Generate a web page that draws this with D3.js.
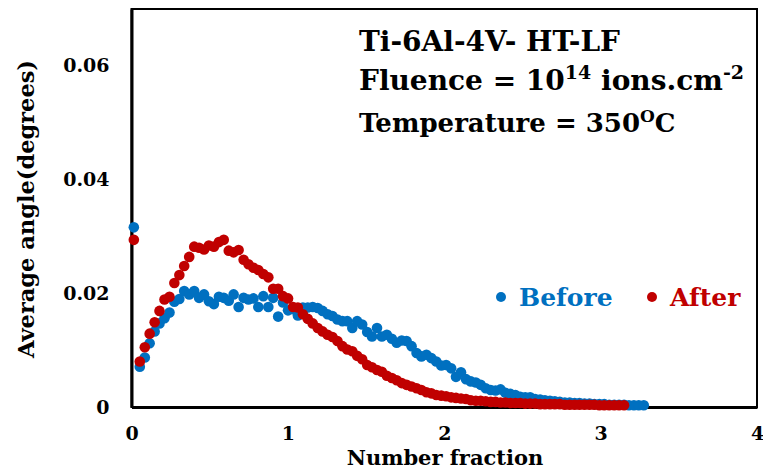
<!DOCTYPE html>
<html>
<head>
<meta charset="utf-8">
<script src="https://cdn.jsdelivr.net/npm/d3@7"></script>
<style>
  body { margin: 0; background: #fff; }
  text { font-family: "DejaVu Serif", serif; font-weight: bold; }
</style>
</head>
<body>
<svg width="763" height="469"></svg>
<script>
// x positions (number fraction), shared by both series
var xValues = [0.015,
  0.053, 0.085, 0.116, 0.148, 0.179, 0.211, 0.243, 0.274, 0.306, 0.337,
  0.369, 0.401, 0.432, 0.464, 0.495, 0.527, 0.559, 0.590, 0.622, 0.653,
  0.685, 0.717, 0.748, 0.780, 0.811, 0.843, 0.875, 0.906, 0.938, 0.969,
  1.001, 1.033, 1.064, 1.096, 1.127, 1.159, 1.191, 1.222, 1.254, 1.285,
  1.317, 1.349, 1.380, 1.412, 1.443, 1.475, 1.507, 1.538, 1.570, 1.601,
  1.633, 1.665, 1.696, 1.728, 1.759, 1.791, 1.823, 1.854, 1.886, 1.917,
  1.949, 1.981, 2.012, 2.044, 2.075, 2.107, 2.139, 2.170, 2.202, 2.233,
  2.265, 2.297, 2.328, 2.360, 2.391, 2.423, 2.455, 2.486, 2.518, 2.549,
  2.581, 2.613, 2.644, 2.676, 2.707, 2.739, 2.771, 2.802, 2.834, 2.865,
  2.897, 2.929, 2.960, 2.992, 3.023, 3.055, 3.087, 3.118, 3.150, 3.181,
  3.213, 3.244, 3.276];

var beforeValues = [0.0316,
  0.0071, 0.0087, 0.0112, 0.0133, 0.0147, 0.0156, 0.0166, 0.0185, 0.0190, 0.0204,
  0.0198, 0.0204, 0.0192, 0.0198, 0.0186, 0.0181, 0.0194, 0.0192, 0.0187, 0.0198,
  0.0176, 0.0192, 0.0189, 0.0191, 0.0176, 0.0195, 0.0176, 0.0192, 0.0159, 0.0184,
  0.0170, 0.0172, 0.0161, 0.0175, 0.0175, 0.0176, 0.0174, 0.0169, 0.0163, 0.0160,
  0.0154, 0.0151, 0.0151, 0.0139, 0.0151, 0.0145, 0.0132, 0.0124, 0.0139, 0.0124,
  0.0127, 0.0120, 0.0113, 0.0117, 0.0116, 0.0107, 0.0095, 0.0089, 0.0092, 0.0086,
  0.0080, 0.0073, 0.0074, 0.0068, 0.0053, 0.0061, 0.0049, 0.0045, 0.0043, 0.0039,
  0.0033, 0.0030, 0.0029, 0.0031, 0.0025, 0.0023, 0.0021, 0.0018, 0.0017, 0.0017,
  0.0014, 0.0013, 0.0012, 0.0011, 0.0010, 0.0009, 0.0008, 0.0008, 0.0007, 0.0007,
  0.0006, 0.0006, 0.0005, 0.0005, 0.0005, 0.0004, 0.0004, 0.0004, 0.0004, 0.0003,
  0.0003, 0.0003, 0.0003];

var afterValues = [0.0294,
  0.0080, 0.0105, 0.0129, 0.0149, 0.0169, 0.0189, 0.0194, 0.0218, 0.0232, 0.0248,
  0.0264, 0.0282, 0.0280, 0.0277, 0.0284, 0.0282, 0.0290, 0.0294, 0.0275, 0.0272,
  0.0276, 0.0259, 0.0251, 0.0245, 0.0241, 0.0234, 0.0228, 0.0208, 0.0208, 0.0195,
  0.0191, 0.0176, 0.0175, 0.0163, 0.0155, 0.0147, 0.0139, 0.0133, 0.0127, 0.0123,
  0.0116, 0.0107, 0.0101, 0.0098, 0.0090, 0.0084, 0.0074, 0.0070, 0.0065, 0.0062,
  0.0055, 0.0051, 0.0047, 0.0042, 0.0039, 0.0036, 0.0033, 0.0030, 0.0026, 0.0024,
  0.0021, 0.0020, 0.0019, 0.0017, 0.0016, 0.0015, 0.0014, 0.0012, 0.0011, 0.0011,
  0.0010, 0.0009, 0.0009, 0.0008, 0.0008, 0.0007, 0.0007, 0.0007, 0.0006, 0.0006,
  0.0006, 0.0005, 0.0005, 0.0005, 0.0005, 0.0005, 0.0004, 0.0004, 0.0004, 0.0004,
  0.0004, 0.0004, 0.0004, 0.0003, 0.0003, 0.0003, 0.0003, 0.0003, 0.0003];

var xTicks = [0, 1, 2, 3, 4];
var yTicks = [0, 0.02, 0.04, 0.06];
var yTickLabels = ["0", "0.02", "0.04", "0.06"];

var seriesNames = ["Before", "After"];
var seriesColors = ["#0070C0", "#C00000"];

var svg = d3.select("svg");

var margins = { top: 9, left: 131.5, right: 6, bottom: 62 };
var width = 763 - margins.left - margins.right;
var height = 469 - margins.top - margins.bottom;

var xScale = d3.scaleLinear().domain([0, 4]).range([0, width]);
var yScale = d3.scaleLinear().domain([0, 0.07]).range([height, 0]);

var plot = svg.append("g")
  .attr("transform", "translate(" + margins.left + "," + margins.top + ")");

// frame
plot.append("rect")
  .attr("x", 0).attr("y", 0)
  .attr("width", width).attr("height", height)
  .attr("fill", "none").attr("stroke", "#000").attr("stroke-width", 2);

// axes
var xAxis = plot.append("g")
  .attr("transform", "translate(0," + height + ")")
  .call(d3.axisBottom(xScale).tickValues(xTicks).tickSize(0).tickPadding(20)
    .tickFormat(d3.format("d")));
var yAxis = plot.append("g")
  .call(d3.axisLeft(yScale).tickValues(yTicks).tickSize(0).tickPadding(22)
    .tickFormat(function(d, i) { return yTickLabels[i]; }));

[xAxis, yAxis].forEach(function(a) {
  a.select(".domain").attr("stroke", "#000").attr("stroke-width", 3);
  a.selectAll("text")
    .attr("fill", "#000")
    .style("font-family", "'DejaVu Serif', serif")
    .style("font-weight", "bold")
    .style("font-size", "19px");
});

// points, "After" drawn on top
var series = [beforeValues, afterValues];
series.forEach(function(vals, s) {
  plot.append("g").selectAll("circle")
    .data(vals)
    .enter()
    .append("circle")
    .attr("cx", function(d, i) { return xScale(xValues[i]); })
    .attr("cy", function(d) { return yScale(d); })
    .attr("r", 5.3)
    .attr("fill", seriesColors[s]);
});

// axis titles
svg.append("text")
  .attr("x", 445).attr("y", 465)
  .attr("text-anchor", "middle")
  .style("font-size", "21px")
  .text("Number fraction");

svg.append("text")
  .attr("transform", "translate(34,209) rotate(-90)")
  .attr("text-anchor", "middle")
  .style("font-size", "22.5px")
  .text("Average angle(degrees)");

// annotation
var note = svg.append("g").attr("transform", "translate(359,0)");
note.append("text").attr("y", 51).style("font-size", "28px").text("Ti-6Al-4V- HT-LF");
var l2 = note.append("text").attr("y", 90).style("font-size", "28px");
l2.append("tspan").text("Fluence = 10");
l2.append("tspan").attr("dy", -11).style("font-size", "19px").text("14");
l2.append("tspan").attr("dy", 11).text(" ions.cm");
l2.append("tspan").attr("dy", -11).style("font-size", "19px").text("-2");
var l3 = note.append("text").attr("y", 132).style("font-size", "26px");
l3.append("tspan").text("Temperature = 350");
l3.append("tspan").attr("dy", -10).style("font-size", "17px").text("O");
l3.append("tspan").attr("dy", 10).text("C");

// legend
var legendX = [501, 652];
seriesNames.forEach(function(name, s) {
  svg.append("circle")
    .attr("cx", legendX[s]).attr("cy", 297).attr("r", 5)
    .attr("fill", seriesColors[s]);
  svg.append("text")
    .attr("x", legendX[s] + 18).attr("y", 306)
    .attr("fill", seriesColors[s])
    .style("font-size", "25px")
    .text(name);
});
</script>
</body>
</html>
